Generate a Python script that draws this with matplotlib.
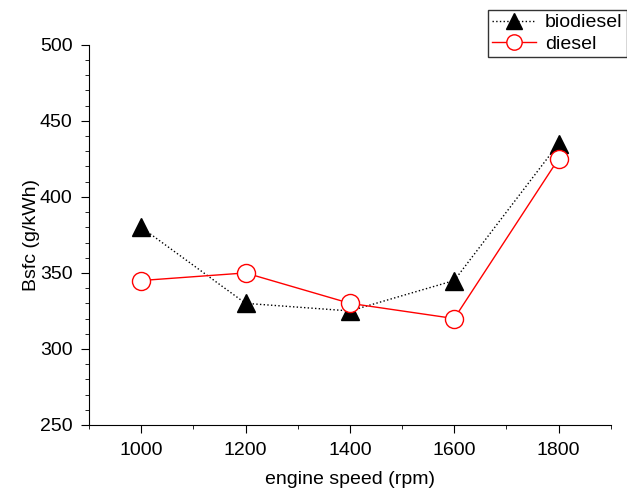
import matplotlib.pyplot as plt
from matplotlib.ticker import MultipleLocator

plt.rcParams['font.family'] = ['Liberation Sans', 'DejaVu Sans']

speed = [1000, 1200, 1400, 1600, 1800]
biodiesel = [380, 330, 325, 345, 435]
diesel = [345, 350, 330, 320, 425]

fig = plt.figure(figsize=(6.27, 4.93), dpi=100)
ax = fig.add_axes([0.142, 0.138, 0.832, 0.771])

ax.plot(speed, biodiesel, color='black', linestyle=':', linewidth=1,
        marker='^', markersize=13, markerfacecolor='black', label='biodiesel')
ax.plot(speed, diesel, color='red', linestyle='-', linewidth=1,
        marker='o', markersize=13, markerfacecolor='white', markeredgecolor='red',
        markeredgewidth=1, label='diesel')

ax.set_xlim(900, 1900)
ax.set_ylim(250, 500)
ax.set_xticks(speed)
ax.set_yticks([250, 300, 350, 400, 450, 500])
ax.xaxis.set_minor_locator(MultipleLocator(100))
ax.yaxis.set_minor_locator(MultipleLocator(10))
ax.tick_params(which='major', direction='out', length=6, labelsize=14, pad=6)
ax.tick_params(which='minor', direction='out', length=3)

ax.spines['top'].set_visible(False)
ax.spines['right'].set_visible(False)

ax.set_xlabel('engine speed (rpm)', fontsize=14, labelpad=9)
ax.set_ylabel('Bsfc (g/kWh)', fontsize=14, labelpad=0)

leg = fig.legend(loc='upper left', bbox_to_anchor=(0.778, 0.98), fontsize=14,
                 frameon=True, fancybox=False, edgecolor='black',
                 borderpad=0.2, handlelength=2.3, handletextpad=0.45,
                 labelspacing=0.2, borderaxespad=0, markerscale=0.85)
leg.get_frame().set_linewidth(1)

fig.savefig('out.png', dpi=100)
